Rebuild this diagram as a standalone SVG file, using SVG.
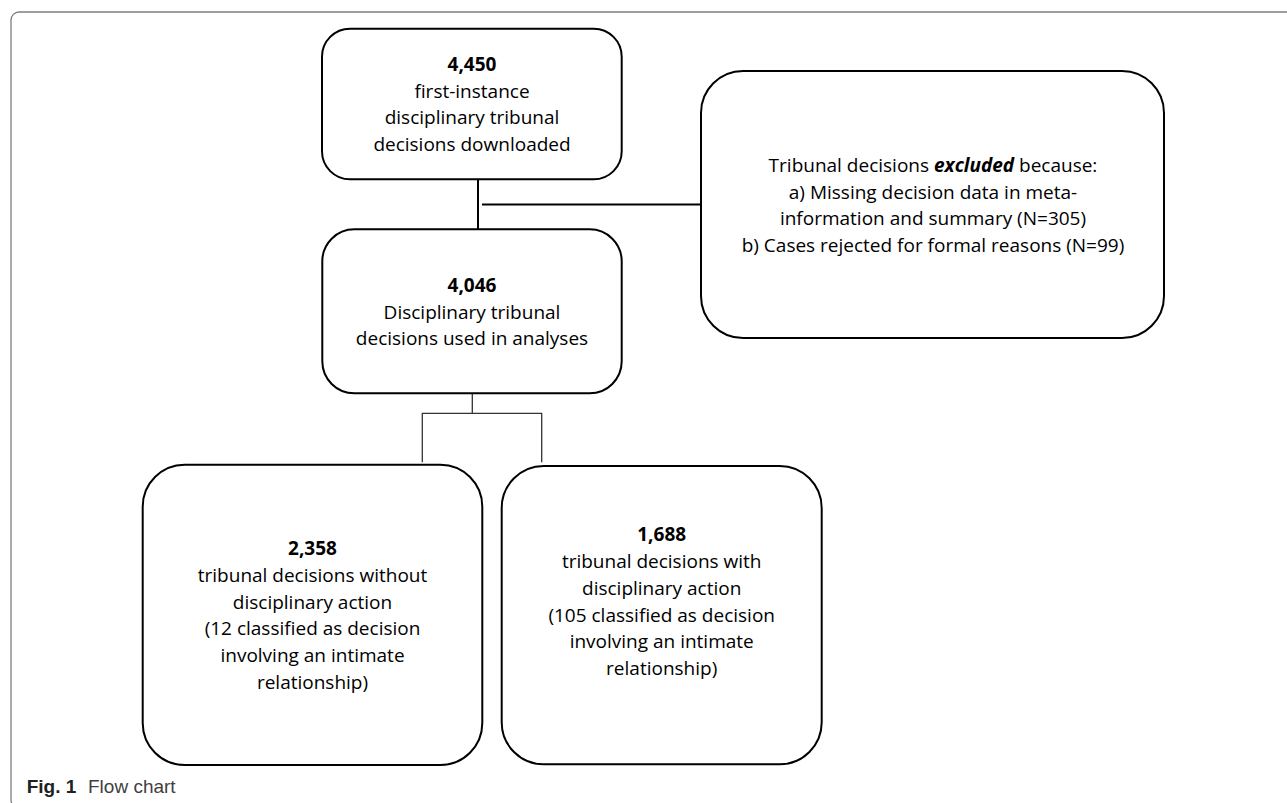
<svg xmlns="http://www.w3.org/2000/svg" width="1287" height="803" viewBox="0 0 1287 803">
<style>
.box{fill:#fff;stroke:#000;stroke-width:2}
.t{font-family:"Open Sans","Liberation Sans",sans-serif;font-size:19px;fill:#000;text-anchor:middle}
.b{font-weight:bold}
.con{fill:none;stroke:#000;stroke-width:2}
.con2{fill:none;stroke:#333;stroke-width:1.3}
.frame{fill:none;stroke:#7f7f7f;stroke-width:1.3}
.cap{font-family:"Liberation Sans",Arial,sans-serif;font-size:19px}
</style>
<rect width="1287" height="803" fill="#fff"/>
<rect class="frame" x="11" y="12" width="1300" height="796" rx="8"/>
<g id="connectors">
<path class="con" d="M478,179.3 V229.3"/>
<path class="con" d="M482,204.5 H701"/>
<path class="con2" d="M472.3,393.3 V413.3 M422.3,462.3 V413.3 H541.7 V462.3"/>
</g>
<g id="n1">
<rect class="box" x="322" y="28.7" width="299.7" height="150.6" rx="28"/>
<text class="t b" x="472" y="71">4,450</text>
<text class="t" x="472" y="97.7">first-instance</text>
<text class="t" x="472" y="124.4">disciplinary tribunal</text>
<text class="t" x="472" y="151.1">decisions downloaded</text>
</g>
<g id="n2">
<rect class="box" x="322.3" y="229.3" width="299.4" height="164" rx="32"/>
<text class="t b" x="472" y="291.7">4,046</text>
<text class="t" x="472" y="318.5">Disciplinary tribunal</text>
<text class="t" x="472" y="345.3">decisions used in analyses</text>
</g>
<g id="n3">
<rect class="box" x="701" y="71" width="463" height="267" rx="42"/>
<text class="t" x="933" y="171.7">Tribunal decisions <tspan font-weight="bold" font-style="italic">excluded</tspan> because:</text>
<text class="t" x="933" y="198.5">a) Missing decision data in meta-</text>
<text class="t" x="933" y="225.3">information and summary (N=305)</text>
<text class="t" x="933" y="252.1">b) Cases rejected for formal reasons (N=99)</text>
</g>
<g id="n4">
<rect class="box" x="142.7" y="464.7" width="339.6" height="300.3" rx="42"/>
<text class="t b" x="312.5" y="555">2,358</text>
<text class="t" x="312.5" y="581.8">tribunal decisions without</text>
<text class="t" x="312.5" y="608.6">disciplinary action</text>
<text class="t" x="312.5" y="635.4">(12 classified as decision</text>
<text class="t" x="312.5" y="662.2">involving an intimate</text>
<text class="t" x="312.5" y="689">relationship)</text>
</g>
<g id="n5">
<rect class="box" x="501.7" y="466" width="320" height="298.3" rx="42"/>
<text class="t b" x="661.7" y="541.2">1,688</text>
<text class="t" x="661.7" y="568">tribunal decisions with</text>
<text class="t" x="661.7" y="594.8">disciplinary action</text>
<text class="t" x="661.7" y="621.6">(105 classified as decision</text>
<text class="t" x="661.7" y="648.4">involving an intimate</text>
<text class="t" x="661.7" y="675.2">relationship)</text>
</g>
<g id="caption">
<text class="cap" x="26.7" y="793" font-weight="bold" fill="#231f20">Fig. 1</text>
<text class="cap" x="88" y="793" fill="#404040">Flow chart</text>
</g>
</svg>
